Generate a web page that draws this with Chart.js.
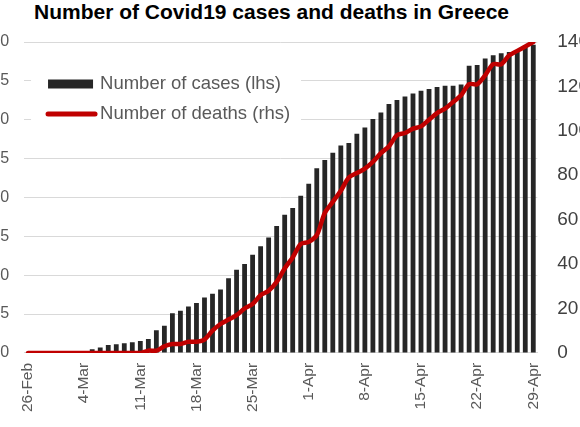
<!DOCTYPE html>
<html>
<head>
<meta charset="utf-8">
<script src="https://cdn.jsdelivr.net/npm/chart.js@4.4.1/dist/chart.umd.min.js"></script>
<style>
  html, body { margin: 0; padding: 0; background: #fff; overflow: hidden; }
  body { width: 580px; height: 427px; position: relative; }
  .title {
    position: absolute; left: 34px; top: 1px;
    font: bold 21px "Liberation Sans", Arial, sans-serif;
    line-height: 21px; color: #000; white-space: nowrap;
  }
  .wrap { position: absolute; left: -50px; top: 0; width: 660px; height: 427px; }
</style>
</head>
<body>
<div class="title">Number of Covid19 cases and deaths in Greece</div>
<div class="wrap"><canvas id="covidChart" width="660" height="427"></canvas></div>
<script>
  // daily categories, 26 Feb - 29 Apr 2020
  var days = [
    '26-Feb', '27-Feb', '28-Feb', '29-Feb',
    '1-Mar', '2-Mar', '3-Mar', '4-Mar', '5-Mar', '6-Mar', '7-Mar', '8-Mar', '9-Mar', '10-Mar',
    '11-Mar', '12-Mar', '13-Mar', '14-Mar', '15-Mar', '16-Mar', '17-Mar', '18-Mar', '19-Mar', '20-Mar',
    '21-Mar', '22-Mar', '23-Mar', '24-Mar', '25-Mar', '26-Mar', '27-Mar', '28-Mar', '29-Mar', '30-Mar', '31-Mar',
    '1-Apr', '2-Apr', '3-Apr', '4-Apr', '5-Apr', '6-Apr', '7-Apr', '8-Apr', '9-Apr', '10-Apr',
    '11-Apr', '12-Apr', '13-Apr', '14-Apr', '15-Apr', '16-Apr', '17-Apr', '18-Apr', '19-Apr', '20-Apr',
    '21-Apr', '22-Apr', '23-Apr', '24-Apr', '25-Apr', '26-Apr', '27-Apr', '28-Apr', '29-Apr'
  ];

  var cases = [
    1, 3, 4, 7,
    7, 7, 7, 9, 31, 45, 66, 73, 80, 89,
    99, 117, 190, 228, 331, 352, 387, 418, 464, 495,
    530, 624, 695, 743, 821, 892, 966, 1061, 1156, 1212, 1314,
    1415, 1544, 1613, 1673, 1735, 1755, 1832, 1884, 1955, 2011,
    2081, 2114, 2145, 2170, 2192, 2207, 2224, 2235, 2235, 2245,
    2401, 2408, 2463, 2490, 2506, 2517, 2534, 2566, 2576
  ];

  var deaths = [
    0, 0, 0, 0,
    0, 0, 0, 0, 0, 0, 0, 0, 0, 0,
    0, 1, 1, 3, 4, 4, 5, 5, 6, 10,
    13, 15, 17, 20, 22, 26, 28, 32, 38, 43, 49,
    50, 53, 63, 68, 73, 79, 81, 83, 86, 90,
    93, 98, 99, 101, 102, 105, 108, 110, 113, 116,
    121, 121, 125, 130, 130, 134, 136, 138, 140
  ];

  var dateTicks = ['26-Feb', '4-Mar', '11-Mar', '18-Mar', '25-Mar', '1-Apr', '8-Apr', '15-Apr', '22-Apr', '29-Apr'];
  var casesTicks = [0, 325, 650, 975, 1300, 1625, 1950, 2275, 2600];
  var deathsTicks = [0, 20, 40, 60, 80, 100, 120, 140];

  var FONT = '"Liberation Sans", Arial, sans-serif';

  // legend drawn inside the plot, on a white box over the gridlines
  var insideLegend = {
    id: 'insideLegend',
    beforeDatasetsDraw: function (chart) {
      var ctx = chart.ctx;
      var a = chart.chartArea;
      ctx.save();
      ctx.fillStyle = '#fff';
      ctx.fillRect(a.left + 7, a.top + 20, 270, 90);
      ctx.font = '18.5px ' + FONT;
      ctx.textBaseline = 'middle';
      chart.data.datasets.forEach(function (ds, i) {
        var x = a.left + 24;
        var y = a.top + 42 + i * 30;
        if (ds.type === 'bar') {
          ctx.fillStyle = ds.backgroundColor;
          ctx.fillRect(x, y - 4.5, 45, 9);
        } else {
          ctx.strokeStyle = ds.borderColor;
          ctx.lineWidth = 5;
          ctx.lineCap = 'round';
          ctx.beginPath();
          ctx.moveTo(x, y);
          ctx.lineTo(x + 47, y);
          ctx.stroke();
        }
        ctx.fillStyle = '#595959';
        ctx.fillText(ds.label, x + 52, y);
      });
      ctx.restore();
    }
  };

  new Chart(document.getElementById('covidChart'), {
    data: {
      labels: days,
      datasets: [{
        type: 'bar',
        label: 'Number of cases (lhs)',
        data: cases,
        yAxisID: 'y',
        order: 1,
        backgroundColor: '#262626',
        barPercentage: 0.6,
        categoryPercentage: 1
      }, {
        type: 'line',
        label: 'Number of deaths (rhs)',
        data: deaths,
        yAxisID: 'y1',
        order: 0,
        borderColor: '#c00000',
        borderWidth: 4.5,
        borderCapStyle: 'round',
        borderJoinStyle: 'round',
        pointRadius: 0,
        tension: 0.3
      }]
    },
    options: {
      responsive: false,
      animation: false,
      layout: { padding: { left: 4, right: 1, top: 42, bottom: 5 } },
      plugins: {
        legend: { display: false },
        tooltip: { enabled: false }
      },
      scales: {
        x: {
          grid: { display: false, drawTicks: false },
          border: { color: '#d9d9d9' },
          ticks: {
            autoSkip: false,
            minRotation: 90,
            maxRotation: 90,
            padding: 10,
            color: '#595959',
            font: { size: 15.5, family: FONT },
            callback: function (value) {
              var lbl = this.getLabelForValue(value);
              return dateTicks.indexOf(lbl) >= 0 ? lbl : '';
            }
          }
        },
        y: {
          position: 'left',
          min: 0,
          max: 2600,
          afterBuildTicks: function (axis) {
            axis.ticks = casesTicks.map(function (v) { return { value: v }; });
          },
          grid: { color: '#d9d9d9', drawTicks: false },
          border: { display: false },
          ticks: {
            padding: 15,
            color: '#595959',
            font: { size: 16, family: FONT }
          }
        },
        y1: {
          position: 'right',
          min: 0,
          max: 140,
          afterBuildTicks: function (axis) {
            axis.ticks = deathsTicks.map(function (v) { return { value: v }; });
          },
          grid: { display: false, drawTicks: false },
          border: { display: false },
          ticks: {
            padding: 20,
            color: '#404040',
            font: { size: 19, family: FONT }
          }
        }
      }
    },
    plugins: [insideLegend]
  });
</script>
</body>
</html>
